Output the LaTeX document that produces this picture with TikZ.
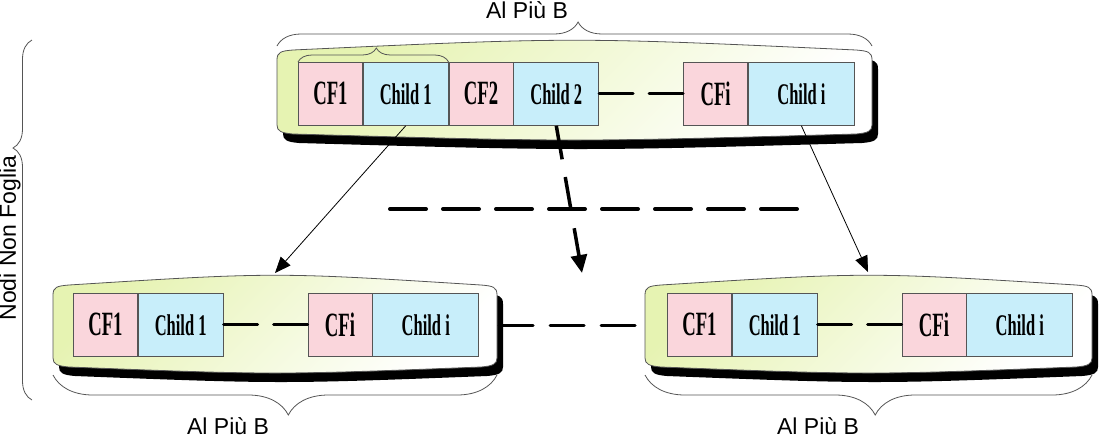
\documentclass[tikz,border=0pt]{standalone}
\usepackage{fontspec}
\setmainfont{Liberation Sans}
\newfontfamily\cffont[FakeStretch=0.55]{Liberation Serif}
\usetikzlibrary{positioning,decorations.pathreplacing,arrows.meta}

\definecolor{cfpink}{RGB}{250,214,220}
\definecolor{chblue}{RGB}{200,238,250}
\definecolor{pillowgreen}{RGB}{230,243,178}
\definecolor{edgegray}{RGB}{85,85,85}

\tikzset{
  cfbox/.style={draw=edgegray, fill=cfpink, minimum width=32pt, minimum height=31.5pt, inner sep=0pt, font=\cffont\bfseries\fontsize{17}{17}\selectfont},
  chbox/.style={draw=edgegray, fill=chblue, minimum width=42.5pt, minimum height=31.5pt, inner sep=0pt, font=\cffont\bfseries\fontsize{15}{15}\selectfont},
  chwide/.style={chbox, minimum width=53pt},
  link/.style={line width=1.5pt, dash pattern=on 17pt off 8pt, line cap=round},
  thinarrow/.style={thin, -{Triangle[length=8pt,width=6.5pt]}},
  dasharrow/.style={line width=1.75pt, dash pattern=on 17pt off 9pt, -{Triangle[length=9pt,width=8pt]}},
  brc/.style n args={2}{draw=edgegray, thin, decorate, decoration={brace, amplitude=#1, aspect=#2}},
  lbl/.style={font=\fontsize{11.5}{12}\selectfont},
}

% outline of a node box (x1, top y, x2, bottom y, in pixels)
\newcommand{\pillowpath}[4]{(#1,#2+10) .. controls (#1,#2+2) and (#1+4,#2+1) .. (#1+16,#2)
  .. controls ({(#1+#3)/2},{#2-13}) .. (#3-16,#2)
  .. controls (#3-4,#2+1) and (#3,#2+2) .. (#3,#2+10) -- (#3,#4-8)
  .. controls (#3,#4-2) and (#3-4,#4) .. (#3-16,#4+1)
  .. controls ({(#1+#3)/2},{#4+9}) .. (#1+16,#4+1)
  .. controls (#1+4,#4) and (#1,#4-2) .. (#1,#4-8) -- cycle}
\newcommand{\pillow}[4]{%
  \path[fill=black, shift={(6,9)}] \pillowpath{#1}{#2}{#3}{#4};
  \path[draw=edgegray, top color=pillowgreen, bottom color=white, shading angle=45] \pillowpath{#1}{#2}{#3}{#4};
}

\begin{document}
\begin{tikzpicture}[x=0.5pt, y=-0.5pt]
\useasboundingbox (0,0) rectangle (1112,440);

% Draw the three node outlines
\pillow{277}{50}{872}{133}
\pillow{53}{285}{497}{366}
\pillow{645}{285}{1092}{366}

% Top node
\node[cfbox, anchor=north west] (tcf1) at (298,62) {CF1};
\node[chbox, right=0pt of tcf1] (tch1) {Child 1};
\node[cfbox, right=0pt of tch1] (tcf2) {CF2};
\node[chbox, right=0pt of tcf2] (tch2) {Child 2};
\node[cfbox, right=42pt of tch2] (tcfi) {CFi};
\node[chwide, right=0pt of tcfi] (tchi) {Child i};

% Bottom left node
\node[cfbox, anchor=north west] (lcf1) at (73,293) {CF1};
\node[chbox, right=0pt of lcf1] (lch1) {Child 1};
\node[cfbox, right=42pt of lch1] (lcfi) {CFi};
\node[chwide, right=0pt of lcfi] (lchi) {Child i};

% Bottom right node
\node[cfbox, anchor=north west] (rcf1) at (667,293) {CF1};
\node[chbox, right=0pt of rcf1] (rch1) {Child 1};
\node[cfbox, right=42pt of rch1] (rcfi) {CFi};
\node[chwide, right=0pt of rcfi] (rchi) {Child i};

% Dashed links between the entries
\draw[link] (tch2) -- (tcfi);
\draw[link] (lch1) -- (lcfi);
\draw[link] (rch1) -- (rcfi);
\coordinate (lend) at (499,325);
\coordinate (rend) at (645,325);
\draw[link, dash pattern=on 17pt off 8.5pt] (lend) -- (rend);

% Pointers to the children
\coordinate (ltop) at (275,273);
\coordinate (mtop) at (582,273);
\coordinate (rtop) at (868,272);
\draw[thinarrow] (tch1.south) -- (ltop);
\draw[thinarrow] (tchi.south) -- (rtop);
\draw[dasharrow] (tch2.south) -- (mtop);

% Dashed level line
\coordinate (dl) at (390,209);
\coordinate (dr) at (800,209);
\draw[line width=2pt, dash pattern=on 18pt off 8.5pt, line cap=round] (dl) -- (dr);

% Braces and their labels
\draw[brc={12pt}{0.506}] (277,46) -- (872,46);
\draw[brc={7pt}{0.52}] (tcf1.north west) -- (tch1.north east);
\draw[brc={20pt}{0.47}] (497,375) -- (53,375);
\draw[brc={20pt}{0.485}] (1092,375) -- (645,375);
\draw[brc={9.5pt}{0.70}] (32,400) -- (32,40);
\node[lbl, anchor=base] (toplbl) at (527,18) {Al Più B};
\node[lbl] (leftlbl) at (228,426) {Al Più B};
\node[lbl] (rightlbl) at (818,426) {Al Più B};
\node[lbl, rotate=90] (sidelbl) at (10,238) {Nodi Non Foglia};
\end{tikzpicture}
\end{document}
